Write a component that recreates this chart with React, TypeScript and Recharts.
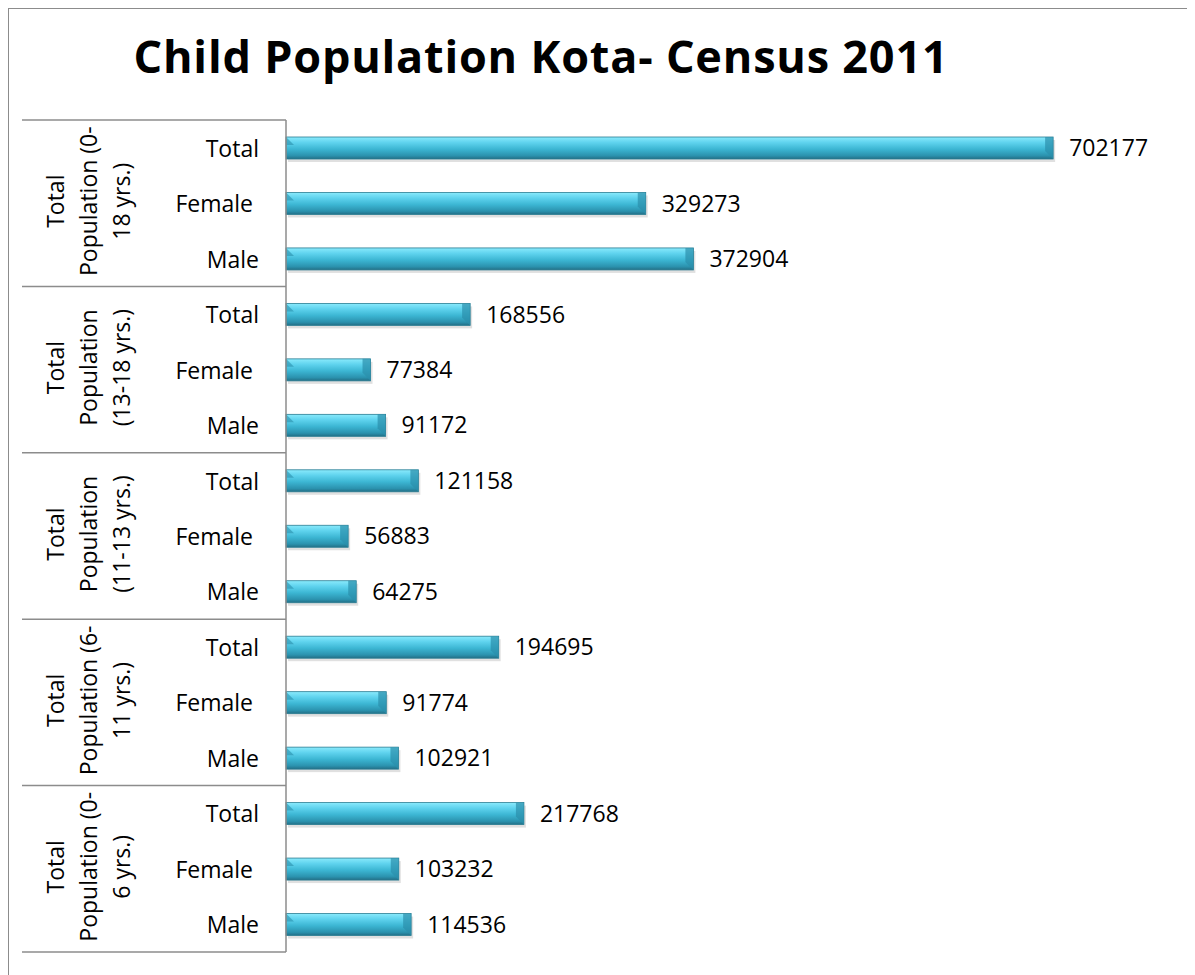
import React from "react";
import { BarChart, Bar, XAxis, YAxis, LabelList } from "recharts";

const sexes = ["Total", "Female ", "Male"];

const groupLabels = [
  ["Total", "Population (0-", "18 yrs.)"],
  ["Total", "Population", "(13-18 yrs.)"],
  ["Total", "Population", "(11-13 yrs.)"],
  ["Total", "Population (6-", "11 yrs.)"],
  ["Total", "Population (0-", "6 yrs.)"],
];

const age0to18 = [702177, 329273, 372904];
const age13to18 = [168556, 77384, 91172];
const age11to13 = [121158, 56883, 64275];
const age6to11 = [194695, 91774, 102921];
const age0to6 = [217768, 103232, 114536];

const groupValues = [age0to18, age13to18, age11to13, age6to11, age0to6];

const data = groupValues.flatMap((vals, g) =>
  vals.map((v, i) => ({ id: `${g}-${i}`, group: g, sex: sexes[i], value: v }))
);

const FONT = "'Open Sans', sans-serif";
const TOP = 120;
const BOTTOM = 952;
const BAND = (BOTTOM - TOP) / data.length;

function GroupTick(props: any) {
  const { y, index } = props;
  const row = data[index];
  const pos = index % 3;
  return (
    <g>
      <text
        x={259}
        y={y}
        textAnchor="end"
        dominantBaseline="central"
        fontFamily={FONT}
        fontSize={23}
        fill="#000"
        style={{ whiteSpace: "pre" }}
      >
        {row.sex}
      </text>
      {pos === 0 && (
        <line x1={22} x2={286} y1={y - BAND / 2} y2={y - BAND / 2} stroke="#8c8c8c" strokeWidth={1.5} />
      )}
      {index === data.length - 1 && (
        <line x1={22} x2={286} y1={y + BAND / 2} y2={y + BAND / 2} stroke="#8c8c8c" strokeWidth={1.5} />
      )}
      {pos === 1 && (
        <g transform={`translate(88, ${y - 2}) rotate(-90)`}>
          <text textAnchor="middle" fontFamily={FONT} fontSize={23} fill="#000">
            {groupLabels[row.group].map((line, k) => (
              <tspan key={k} x={0} y={(k - 1) * 33} dominantBaseline="central">
                {line}
              </tspan>
            ))}
          </text>
        </g>
      )}
    </g>
  );
}

function GlossyBar(props: any) {
  const { x, y, width, height } = props;
  if (!width || width <= 0) return null;
  const b = Math.min(8, width / 2);
  return (
    <g>
      <rect x={x + 2} y={y + 3} width={width} height={height} fill="#000" opacity={0.12} />
      <rect x={x} y={y} width={width} height={height} fill="url(#barGrad)" stroke="#2a7d93" strokeWidth={0.8} />
      <polygon
        points={`${x + width - b},${y} ${x + width},${y} ${x + width},${y + height} ${x + width - b},${y + height - b}`}
        fill="#2b8fab"
        opacity={0.7}
      />
      <polygon points={`${x},${y} ${x + b},${y + b} ${x},${y + b}`} fill="#2a90ac" opacity={0.6} />
    </g>
  );
}

export default function App() {
  return (
    <div
      style={{
        position: "relative",
        width: 1195,
        height: 975,
        margin: "-8px 0 0 -8px",
        overflow: "hidden",
        background: "#fff",
      }}
    >
      <div
        style={{
          position: "absolute",
          left: 7,
          top: 7,
          width: 1178,
          height: 1000,
          border: "2px solid #8c8c8c",
        }}
      />
      <svg width={1195} height={110} style={{ position: "absolute", left: 0, top: 0 }}>
        <text
          x={541}
          y={73}
          textAnchor="middle"
          fontFamily={FONT}
          fontWeight={700}
          fontSize={45}
          letterSpacing={0.8}
          fill="#000"
        >
          Child Population Kota- Census 2011
        </text>
      </svg>
      <div style={{ position: "absolute", left: 0, top: 0 }}>
        <BarChart
          width={1195}
          height={975}
          data={data}
          layout="vertical"
          margin={{ top: TOP, bottom: 975 - BOTTOM, left: 0, right: 35 }}
          barSize={22}
        >
          <defs>
            <linearGradient id="barGrad" x1="0" y1="0" x2="0" y2="1">
              <stop offset="0%" stopColor="#8aeafc" />
              <stop offset="25%" stopColor="#5fd3ee" />
              <stop offset="55%" stopColor="#3cb6d3" />
              <stop offset="85%" stopColor="#2b92ae" />
              <stop offset="100%" stopColor="#236f86" />
            </linearGradient>
          </defs>
          <XAxis type="number" domain={[0, 800000]} hide />
          <YAxis
            type="category"
            dataKey="id"
            width={286}
            axisLine={{ stroke: "#8c8c8c", strokeWidth: 1.5 }}
            tickLine={false}
            interval={0}
            tick={<GroupTick />}
          />
          <Bar dataKey="value" isAnimationActive={false} shape={<GlossyBar />}>
            <LabelList
              dataKey="value"
              position="right"
              offset={16}
              fontFamily={FONT}
              fontSize={23}
              fill="#000"
            />
          </Bar>
        </BarChart>
      </div>
    </div>
  );
}
